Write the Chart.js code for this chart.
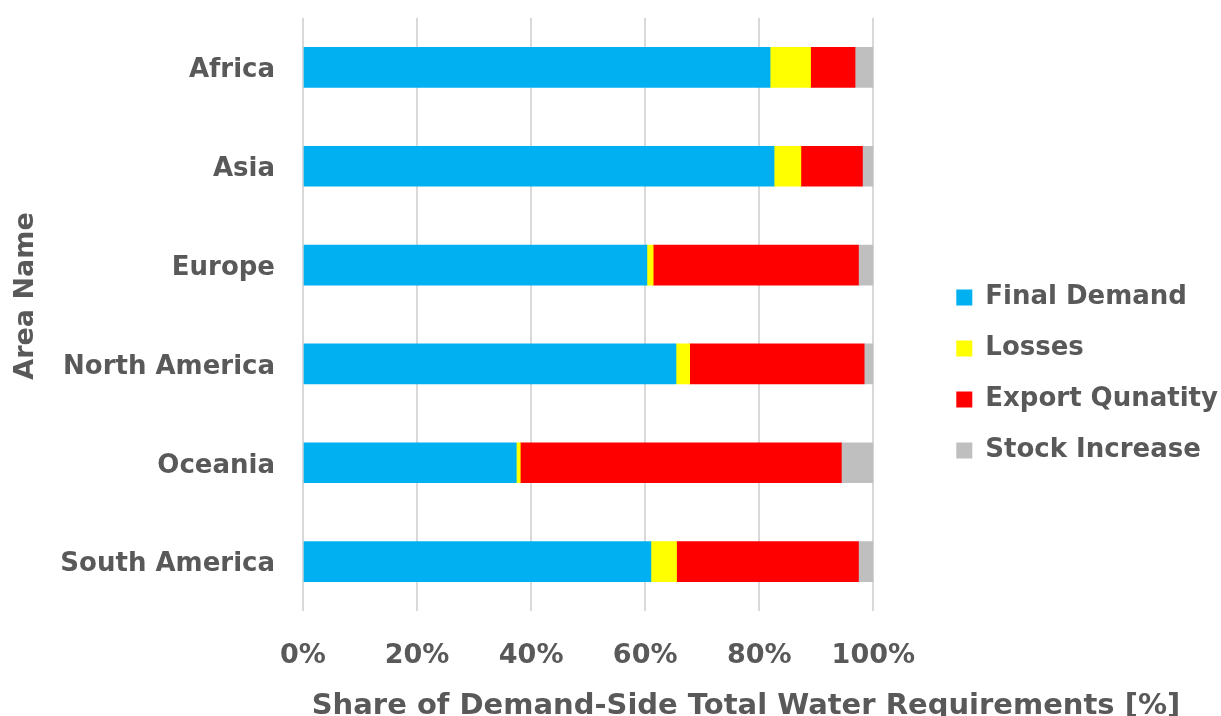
<!DOCTYPE html>
<html>
<head>
<meta charset="utf-8">
<script src="https://cdn.jsdelivr.net/npm/chart.js@4.4.1/dist/chart.umd.min.js"></script>
<style>
  html, body { margin: 0; padding: 0; background: #ffffff; }
  #wrap { width: 1221px; height: 716px; }
</style>
</head>
<body>
<div id="wrap"><canvas id="chart" width="1221" height="716"></canvas></div>
<script>
// Regions and the share (%) of each demand-side component
const areas = ['Africa', 'Asia', 'Europe', 'North America', 'Oceania', 'South America'];
const finalDemand    = [81.9, 82.6, 60.3, 65.4, 37.4, 61.0];
const losses         = [7.1, 4.7, 1.1, 2.4, 0.7, 4.5];
const exportQuantity = [7.8, 10.8, 36.0, 30.6, 56.3, 31.9];
const stockIncrease  = [3.2, 1.9, 2.6, 1.6, 5.6, 2.6];
const seriesNames = ['Final Demand', 'Losses', 'Export Qunatity', 'Stock Increase'];
const xTickValues = [0, 20, 40, 60, 80, 100];
const xTitle = 'Share of Demand-Side Total Water Requirements [%]';
const yTitle = 'Area Name';

const FONT = '"DejaVu Sans", Verdana, sans-serif';
const TEXT = '#595959';
const GRID = '#d9d9d9';
const colours = ['#00b0f0', '#ffff00', '#ff0000', '#bfbfbf'];
const seriesValues = [finalDemand, losses, exportQuantity, stockIncrease];

// Axis titles, placed freely like in the spreadsheet layout
const axisTitles = {
  id: 'axisTitles',
  afterDraw(chart) {
    const ctx = chart.ctx;
    ctx.save();
    ctx.fillStyle = TEXT;
    ctx.textAlign = 'center';
    ctx.font = 'bold 29px ' + FONT;
    ctx.textBaseline = 'alphabetic';
    ctx.fillText(xTitle, 746, 714);
    ctx.translate(26, 296);
    ctx.rotate(-Math.PI / 2);
    ctx.font = 'bold 27px ' + FONT;
    ctx.textBaseline = 'middle';
    ctx.fillText(yTitle, 0, 0);
    ctx.restore();
  }
};

new Chart(document.getElementById('chart'), {
  type: 'bar',
  data: {
    labels: areas,
    datasets: seriesNames.map((name, i) => ({
      label: name,
      data: seriesValues[i],
      backgroundColor: colours[i],
      borderWidth: 0,
      barThickness: 40
    }))
  },
  options: {
    indexAxis: 'y',
    responsive: false,
    animation: false,
    devicePixelRatio: 1,
    layout: { padding: { top: 18, bottom: -14, left: 0, right: -7 } },
    plugins: {
      tooltip: { enabled: false },
      legend: {
        position: 'right',
        align: 'center',
        maxWidth: 400,
        labels: {
          boxWidth: 16,
          boxHeight: 16,
          padding: 25,
          color: TEXT,
          font: { family: FONT, size: 26, weight: 'bold' }
        }
      }
    },
    scales: {
      x: {
        type: 'linear',
        stacked: true,
        min: 0,
        max: 100,
        position: 'bottom',
        afterBuildTicks(scale) { scale.ticks = xTickValues.map(v => ({ value: v })); },
        ticks: {
          callback: v => v + '%',
          color: TEXT,
          padding: 29,
          font: { family: FONT, size: 27, weight: 'bold' }
        },
        grid: { color: GRID, lineWidth: 2, drawTicks: false },
        border: { display: false },
        afterFit(scale) { scale.height = 119; }
      },
      y: {
        type: 'category',
        stacked: true,
        position: 'left',
        ticks: {
          color: TEXT,
          padding: 28,
          labelOffset: 3,
          font: { family: FONT, size: 26, weight: 'bold' }
        },
        grid: { display: false, drawTicks: false },
        border: { display: false },
        afterFit(scale) {
          scale.width = 303;
          scale.paddingTop = 0;
          scale.paddingBottom = 0;
        }
      },
      gap: {
        type: 'category',
        axis: 'y',
        position: 'right',
        ticks: { display: false },
        grid: { display: false, drawTicks: false },
        border: { display: false },
        afterFit(scale) { scale.width = 58; }
      }
    }
  },
  plugins: [axisTitles]
});
</script>
</body>
</html>
